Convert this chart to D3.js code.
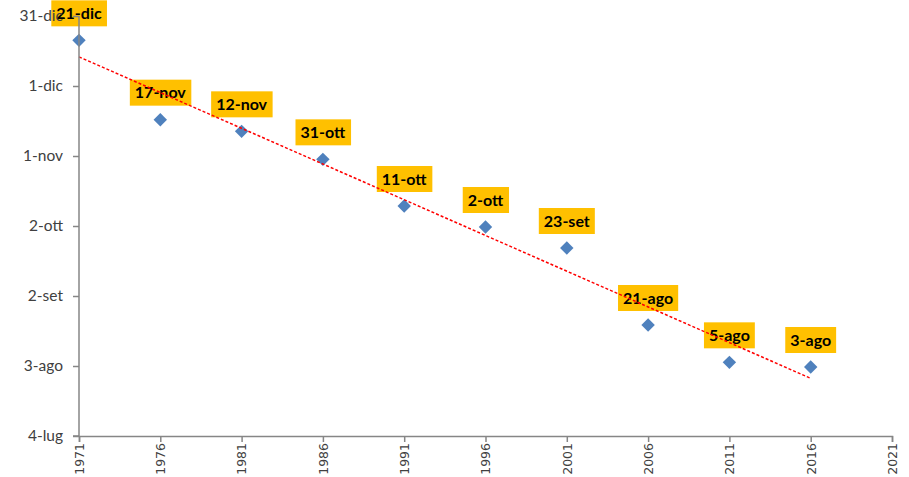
<!DOCTYPE html>
<html>
<head>
<meta charset="utf-8">
<script src="https://cdn.jsdelivr.net/npm/d3@7"></script>
<style>
  body { margin: 0; background: #fff; }
  svg { display: block; }
</style>
</head>
<body>
<div id="chart"></div>
<script>
// data
const years = [1971, 1976, 1981, 1986, 1991, 1996, 2001, 2006, 2011, 2016];
const dates = ['21-dic', '17-nov', '12-nov', '31-ott', '11-ott', '2-ott', '23-set', '21-ago', '5-ago', '3-ago'];
const xTicks = [1971, 1976, 1981, 1986, 1991, 1996, 2001, 2006, 2011, 2016, 2021];
const yTicks = ['4-lug', '3-ago', '2-set', '2-ott', '1-nov', '1-dic', '31-dic'];

const width = 909;
const height = 477;
const margin = { top: 16, right: 17, bottom: 41, left: 79 };

const it = d3.timeFormatLocale({
    dateTime: '%A %e %B %Y, %X',
    date: '%d/%m/%Y',
    time: '%H:%M:%S',
    periods: ['AM', 'PM'],
    days: ['domenica', 'lunedì', 'martedì', 'mercoledì', 'giovedì', 'venerdì', 'sabato'],
    shortDays: ['dom', 'lun', 'mar', 'mer', 'gio', 'ven', 'sab'],
    months: ['gennaio', 'febbraio', 'marzo', 'aprile', 'maggio', 'giugno', 'luglio', 'agosto', 'settembre', 'ottobre', 'novembre', 'dicembre'],
    shortMonths: ['gen', 'feb', 'mar', 'apr', 'mag', 'giu', 'lug', 'ago', 'set', 'ott', 'nov', 'dic']
});
const parse = it.parse('%d-%b');
const fmt = it.format('%-d-%b');

const data = years.map((y, i) => ({ year: y, date: parse(dates[i]), label: dates[i] }));
const yTickDates = yTicks.map(parse);

const svg = d3.select('#chart')
    .append('svg')
    .attr('width', width)
    .attr('height', height);

const x = d3.scaleLinear()
    .domain([1971, 2021])
    .range([margin.left, width - margin.right]);

const y = d3.scaleTime()
    .domain([yTickDates[0], yTickDates[yTickDates.length - 1]])
    .range([height - margin.bottom, margin.top]);

// points
svg.append('g')
    .selectAll('path')
    .data(data)
    .enter().append('path')
    .attr('d', d3.symbol(d3.symbolSquare, 90))
    .attr('transform', d => `translate(${x(d.year)},${y(d.date) + 1})  rotate(45)`)
    .attr('fill', '#4F81BD');

// data labels
const lab = svg.append('g')
    .selectAll('g')
    .data(data)
    .enter().append('g')
    .attr('transform', d => `translate(${x(d.year)},${y(d.date) - 26})`);

lab.append('text')
    .attr('text-anchor', 'middle')
    .attr('dy', '0.36em')
    .attr('font-family', 'Lato, sans-serif')
    .attr('font-weight', 'bold')
    .attr('font-size', 16)
    .attr('fill', '#000')
    .text(d => d.label);

lab.each(function () {
    const g = d3.select(this);
    const bb = g.select('text').node().getBBox();
    g.insert('rect', 'text')
        .attr('x', bb.x - 5)
        .attr('y', -13)
        .attr('width', bb.width + 10)
        .attr('height', 26)
        .attr('fill', '#FFC000');
});

// linear trendline
const t0 = data[0].date.getTime();
const days = data.map(d => (d.date.getTime() - t0) / 864e5);
const mx = d3.mean(years);
const my = d3.mean(days);
const slope = d3.sum(years, (v, i) => (v - mx) * (days[i] - my)) / d3.sum(years, v => (v - mx) ** 2);
const icpt = my - slope * mx;
const trend = [years[0], years[years.length - 1]].map(v => ({
    year: v,
    date: new Date(t0 + (icpt + slope * v) * 864e5)
}));

svg.append('path')
    .datum(trend)
    .attr('d', d3.line().x(d => x(d.year)).y(d => y(d.date)))
    .attr('fill', 'none')
    .attr('stroke', '#FF0000')
    .attr('stroke-width', 1.5)
    .attr('stroke-dasharray', '3,2');

// axes (on top, as in the original: 31-dic shows over the first label)
const yAxis = svg.append('g')
    .attr('transform', `translate(${margin.left},0)`)
    .call(d3.axisLeft(y).tickValues(yTickDates).tickFormat(fmt).tickSize(6).tickPadding(10));
yAxis.selectAll('text')
    .attr('font-family', 'Lato, sans-serif')
    .attr('font-size', 15.5)
    .attr('fill', '#404040');

const xAxis = svg.append('g')
    .attr('transform', `translate(0,${height - margin.bottom})`)
    .call(d3.axisBottom(x).tickValues(xTicks).tickFormat(d3.format('d')).tickSize(6).tickPadding(4));
xAxis.selectAll('text')
    .attr('font-family', 'DejaVu Sans, sans-serif')
    .attr('font-size', 12.5)
    .attr('fill', '#404040')
    .attr('transform', 'rotate(-90)')
    .attr('text-anchor', 'end')
    .attr('x', -7)
    .attr('y', 0)
    .attr('dy', '0.35em');

[yAxis, xAxis].forEach(a => {
    a.selectAll('.domain, line').attr('stroke', '#868686').attr('stroke-width', 1.5);
});
yAxis.select('.domain').attr('d', `M-6,${y.range()[0]}H0V${y.range()[1]}`);
</script>
</body>
</html>
